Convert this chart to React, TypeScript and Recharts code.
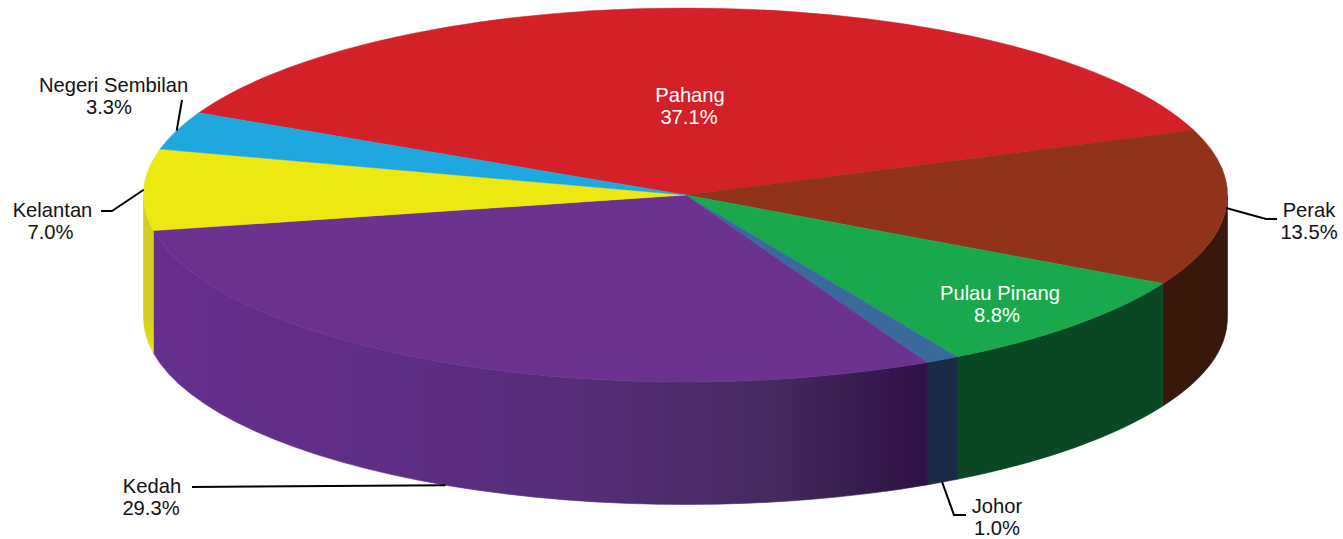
import React from 'react';
import { PieChart, Pie } from 'recharts';

const regions = ['Pahang', 'Perak', 'Pulau Pinang', 'Johor', 'Kedah', 'Kelantan', 'Negeri Sembilan'];
const shares = [37.1, 13.5, 8.8, 1.0, 29.3, 7.0, 3.3];
const topColors = ['#d42027', '#91321a', '#1aa84c', '#3a6a9c', '#6b3290', '#eee811', '#1fa8df'];
const wallColors = ['#5a1013', '#3a170b', '#0a4824', '#1b2a47', 'url(#kedahWall)', 'url(#kelantanWall)', '#10587a'];

const rows = regions.map((name, i) => ({ name, value: shares[i], fill: topColors[i], wall: wallColors[i] }));

const W = 1343;
const H = 539;
const CX = 685.5;
const CY = 195;
const RX = 542;
const RY = 187;
const DEPTH = 122.5;
const FONT = '"Liberation Sans", Arial, sans-serif';

type Layout = { textX: number; valueX: number; base: number; color: string; onWall?: boolean; path?: number[][] };
const layouts: Record<string, Layout> = {
  Pahang: { textX: 690, valueX: 689, base: 102, color: '#ffffff' },
  Perak: { textX: 1309, valueX: 1309, base: 217, color: '#111111', path: [[1266, 219], [1277, 219]] },
  'Pulau Pinang': { textX: 1000, valueX: 997, base: 300, color: '#ffffff' },
  Johor: { textX: 997, valueX: 997, base: 513, color: '#111111', onWall: true, path: [[954, 515], [966, 515]] },
  Kedah: { textX: 152, valueX: 151, base: 493, color: '#111111', onWall: true, path: [[192, 487]] },
  Kelantan: { textX: 52.5, valueX: 50.5, base: 217, color: '#111111', path: [[112, 211], [101, 211]] },
  'Negeri Sembilan': { textX: 113.5, valueX: 109, base: 92, color: '#111111', path: [[182, 100]] },
};

const rad = (a: number) => (a * Math.PI) / 180;
const px = (a: number, cx: number, rx: number) => cx + rx * Math.cos(rad(a));
const py = (a: number, cy: number, ry: number) => cy - ry * Math.sin(rad(a));

function TopSlice(p: any) {
  const hi = Math.max(p.startAngle, p.endAngle);
  const lo = Math.min(p.startAngle, p.endAngle);
  const rx = p.outerRadius;
  const ry = (rx * RY) / RX;
  const large = hi - lo > 180 ? 1 : 0;
  const d = `M${p.cx},${p.cy} L${px(hi, p.cx, rx)},${py(hi, p.cy, ry)} A${rx},${ry} 0 ${large} 1 ${px(lo, p.cx, rx)},${py(lo, p.cy, ry)} Z`;
  return <path d={d} fill={p.payload?.fill ?? p.fill} stroke={p.payload?.fill ?? p.fill} strokeWidth={0.5} />;
}

function WallSlice(p: any) {
  const hi = Math.min(Math.max(p.startAngle, p.endAngle), 0);
  const lo = Math.max(Math.min(p.startAngle, p.endAngle), -180);
  if (hi <= lo) return <g />;
  const rx = p.outerRadius;
  const ry = (rx * RY) / RX;
  const by = p.cy + DEPTH;
  const d =
    `M${px(hi, p.cx, rx)},${py(hi, p.cy, ry)} A${rx},${ry} 0 0 1 ${px(lo, p.cx, rx)},${py(lo, p.cy, ry)} ` +
    `L${px(lo, p.cx, rx)},${py(lo, by, ry)} A${rx},${ry} 0 0 0 ${px(hi, p.cx, rx)},${py(hi, by, ry)} Z`;
  const wall = p.payload?.wall ?? p.wall;
  return <path d={d} fill={wall} stroke={wall} strokeWidth={0.6} />;
}

function SliceLabel(p: any) {
  const layout = layouts[p.name];
  if (!layout) return null;
  const rx = p.outerRadius;
  const ry = (rx * RY) / RX;
  const ax = px(p.midAngle, p.cx, rx);
  const ay = py(p.midAngle, p.cy, ry) + (layout.onWall ? DEPTH : 0);
  const points = layout.path ? [[ax, ay], ...layout.path] : null;
  return (
    <g>
      {points && (
        <polyline points={points.map((q) => q.join(',')).join(' ')} fill="none" stroke="#000000" strokeWidth={2} />
      )}
      <text textAnchor="middle" fontFamily={FONT} fontSize={20.2} fill={layout.color}>
        <tspan x={layout.textX} y={layout.base}>{p.name}</tspan>
        <tspan x={layout.valueX} y={layout.base + 22}>{`${Number(p.value).toFixed(1)}%`}</tspan>
      </text>
    </g>
  );
}

export default function App() {
  return (
    <div style={{ position: 'absolute', left: 0, top: 0, width: W, height: H, background: '#fff' }}>
      <PieChart width={W} height={H} margin={{ top: 0, right: 0, bottom: 0, left: 0 }}>
        <defs>
          <linearGradient id="kedahWall" gradientUnits="userSpaceOnUse" x1={152} y1={0} x2={928} y2={0}>
            <stop offset="0" stopColor="#672e8e" />
            <stop offset="0.3" stopColor="#5f2d86" />
            <stop offset="0.55" stopColor="#552d78" />
            <stop offset="0.8" stopColor="#432a5f" />
            <stop offset="1" stopColor="#2e1145" />
          </linearGradient>
          <linearGradient id="kelantanWall" gradientUnits="userSpaceOnUse" x1={0} y1={210} x2={0} y2={350}>
            <stop offset="0" stopColor="#d8cc20" />
            <stop offset="0.75" stopColor="#d8cc20" />
            <stop offset="1" stopColor="#e8e014" />
          </linearGradient>
        </defs>
        <Pie
          data={rows}
          dataKey="value"
          nameKey="name"
          cx={CX}
          cy={CY}
          innerRadius={0}
          outerRadius={RX}
          startAngle={153.9}
          endAngle={-206.1}
          stroke="none"
          shape={WallSlice}
          isAnimationActive={false}
          label={false}
          labelLine={false}
        />
        <Pie
          data={rows}
          dataKey="value"
          nameKey="name"
          cx={CX}
          cy={CY}
          innerRadius={0}
          outerRadius={RX}
          startAngle={153.9}
          endAngle={-206.1}
          stroke="none"
          shape={TopSlice}
          isAnimationActive={false}
          label={SliceLabel}
          labelLine={false}
        />
      </PieChart>
    </div>
  );
}
